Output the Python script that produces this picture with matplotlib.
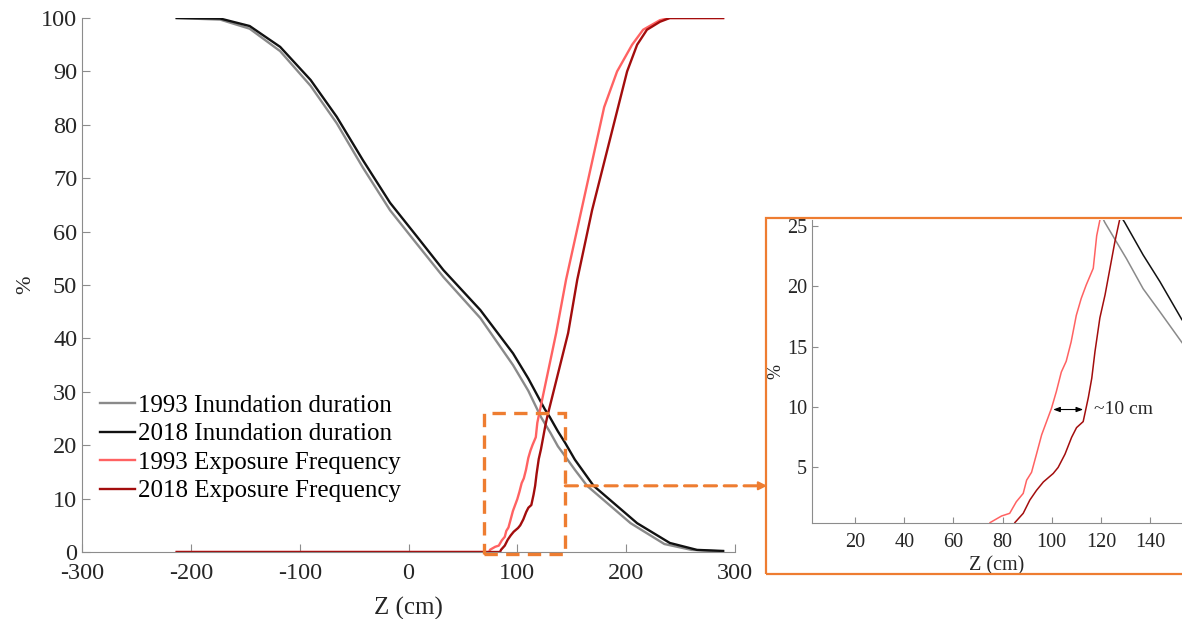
import matplotlib
matplotlib.use("Agg")
import matplotlib.pyplot as plt
from matplotlib.patches import Rectangle

plt.rcParams['font.family'] = ['Liberation Serif', 'DejaVu Serif']
plt.rcParams['axes.unicode_minus'] = False

# elevation (cm) and percentage for each curve
z_dur_1993 = [-213, -173, -146, -118, -90, -66, -42, -17, 8, 32, 66, 96, 110,
              121.6, 130.4, 137.2, 144, 152.8, 164, 204, 235, 260, 289]
dur_1993 = [100, 99.7, 98.0, 93.8, 87.3, 80.3, 72.0, 64.0, 57.6, 51.5, 43.8, 35.0, 30.2,
            25.3, 22.3, 19.8, 17.9, 15.4, 12.4, 5.4, 1.5, 0.4, 0.1]

z_dur_2018 = [-213, -173, -146, -118, -90, -66, -42, -17, 8, 32, 66, 96, 110,
              125, 129.7, 137.2, 144, 152.8, 170, 210, 240, 265, 289]
dur_2018 = [100, 99.9, 98.5, 94.6, 88.4, 81.5, 73.4, 65.4, 59.0, 52.8, 45.3, 37.2, 32.5,
            26.8, 25.3, 22.6, 20.4, 17.3, 12.4, 5.4, 1.7, 0.4, 0.2]

z_exp_1993 = [-213, 74, 74.9, 79.6, 82.9, 85.6, 88.4, 89.8, 91.8, 93.8, 95.9, 97.9, 99.9,
              101.9, 103.9, 105.9, 107.9, 110.0, 112.0, 114.0, 116.9, 118.3, 119.4,
              135.6, 144.7, 157.6, 179.7, 191.6, 205.4, 215.5, 231, 240, 289]
exp_1993 = [0, 0, 0.43, 0.98, 1.2, 2.16, 2.85, 3.95, 4.6, 6.1, 7.7, 8.8, 9.9,
            11.3, 12.9, 13.8, 15.4, 17.6, 19.0, 20.1, 21.5, 24.2, 25.3,
            41, 51, 62.9, 83.3, 90, 95, 97.8, 99.6, 100, 100]

z_exp_2018 = [-213, 84, 85.0, 88.4, 91.1, 93.8, 96.6, 100.6, 102.6, 105.4, 108.1, 110.1,
              112.8, 114.9, 116.3, 117.6, 119.6, 121.7, 123.7, 125.7, 127.5,
              146.6, 155, 168.6, 192.5, 200.8, 210, 219, 231, 240, 289]
exp_2018 = [0, 0, 0.43, 1.2, 2.3, 3.1, 3.8, 4.5, 5.0, 6.1, 7.5, 8.3,
            8.8, 10.8, 12.4, 14.6, 17.4, 19.3, 21.5, 23.7, 25.4,
            41, 51, 64, 83.3, 90, 95, 97.8, 99.3, 100, 100]

series = [
    (z_dur_1993, dur_1993, '#8a8a8a', '1993 Inundation duration'),
    (z_dur_2018, dur_2018, '#111111', '2018 Inundation duration'),
    (z_exp_1993, exp_1993, '#ff6262', '1993 Exposure Frequency'),
    (z_exp_2018, exp_2018, '#a30d0d', '2018 Exposure Frequency'),
]

orange = '#ee7d31'
axis_grey = '#8c8c8c'
text_col = '#262626'

fig = plt.figure(figsize=(11.82, 6.19), dpi=100)

# main panel
ax = fig.add_axes([0.0694, 0.1082, 0.5525, 0.8627])
for z, v, c, lab in series:
    ax.plot(z, v, color=c, lw=1.7, label=lab)
ax.set_xlim(-300, 300)
ax.set_ylim(0, 100)
ax.set_xticks(range(-300, 301, 100))
ax.set_yticks(range(0, 101, 10))
for s in ['top', 'right']:
    ax.spines[s].set_visible(False)
for s in ['left', 'bottom']:
    ax.spines[s].set_color(axis_grey)
ax.tick_params(direction='in', length=6, color=axis_grey, labelsize=17.5,
               labelcolor=text_col)
ax.tick_params(axis='x', pad=8)
ax.set_xlabel('Z (cm)', fontsize=18, color=text_col, labelpad=9)
ax.set_ylabel('%', fontsize=16, color=text_col, labelpad=4)
ax.legend(loc='lower left', bbox_to_anchor=(0.005, 0.065), frameon=False,
          fontsize=18, handlelength=1.4, handletextpad=0.12, labelspacing=0.24,
          borderaxespad=0.2)

# zoom window and pointer to the inset
ax.add_patch(Rectangle((69, -0.3), 75, 26.3, fill=False, ec=orange, lw=2.4,
                       ls=(0, (4, 2.5)), clip_on=False, zorder=5))
ax.annotate('', xy=(0.644, 12.4), xycoords=('figure fraction', 'data'),
            xytext=(144, 12.4), textcoords='data',
            arrowprops=dict(arrowstyle='-', color=orange, lw=2.2,
                            ls=(0, (4, 2.5)), shrinkA=0, shrinkB=0),
            annotation_clip=False)
ax.annotate('', xy=(0.649, 12.4), xycoords=('figure fraction', 'data'),
            xytext=(0.640, 12.4), textcoords=('figure fraction', 'data'),
            arrowprops=dict(arrowstyle='-|>,head_length=0.5,head_width=0.25',
                            color=orange, lw=1.5, shrinkA=0, shrinkB=0),
            annotation_clip=False)

# inset frame
fig.patches.append(Rectangle((0.648, 0.0727), 0.36, 0.5751, fill=False,
                             ec=orange, lw=1.6, transform=fig.transFigure,
                             figure=fig))

# inset panel
ins = fig.add_axes([0.687, 0.1551, 0.313, 0.4895])
for z, v, c, lab in series:
    ins.plot(z, v, color=c, lw=1.1)
ins.set_xlim(2.5, 153)
ins.set_ylim(0.4, 25.5)
ins.set_xticks(range(20, 141, 20))
ins.set_yticks(range(5, 26, 5))
for s in ['top', 'right']:
    ins.spines[s].set_visible(False)
for s in ['left', 'bottom']:
    ins.spines[s].set_color(axis_grey)
ins.tick_params(direction='in', length=4, color=axis_grey, labelsize=14.5,
                labelcolor=text_col)
ins.tick_params(axis='x', pad=7)
ins.set_xlabel('Z (cm)', fontsize=14.5, color=text_col, labelpad=3)
ins.set_ylabel('%', fontsize=13, color=text_col, labelpad=2)
ins.annotate('', xy=(100.6, 9.8), xytext=(112.8, 9.8),
             arrowprops=dict(arrowstyle='<|-|>,head_length=0.4,head_width=0.15',
                             color='black', lw=0.8, shrinkA=0, shrinkB=0))
ins.text(117.3, 9.8, '~10 cm', fontsize=14, color=text_col, va='center', ha='left')

fig.savefig('out.png', dpi=100)
